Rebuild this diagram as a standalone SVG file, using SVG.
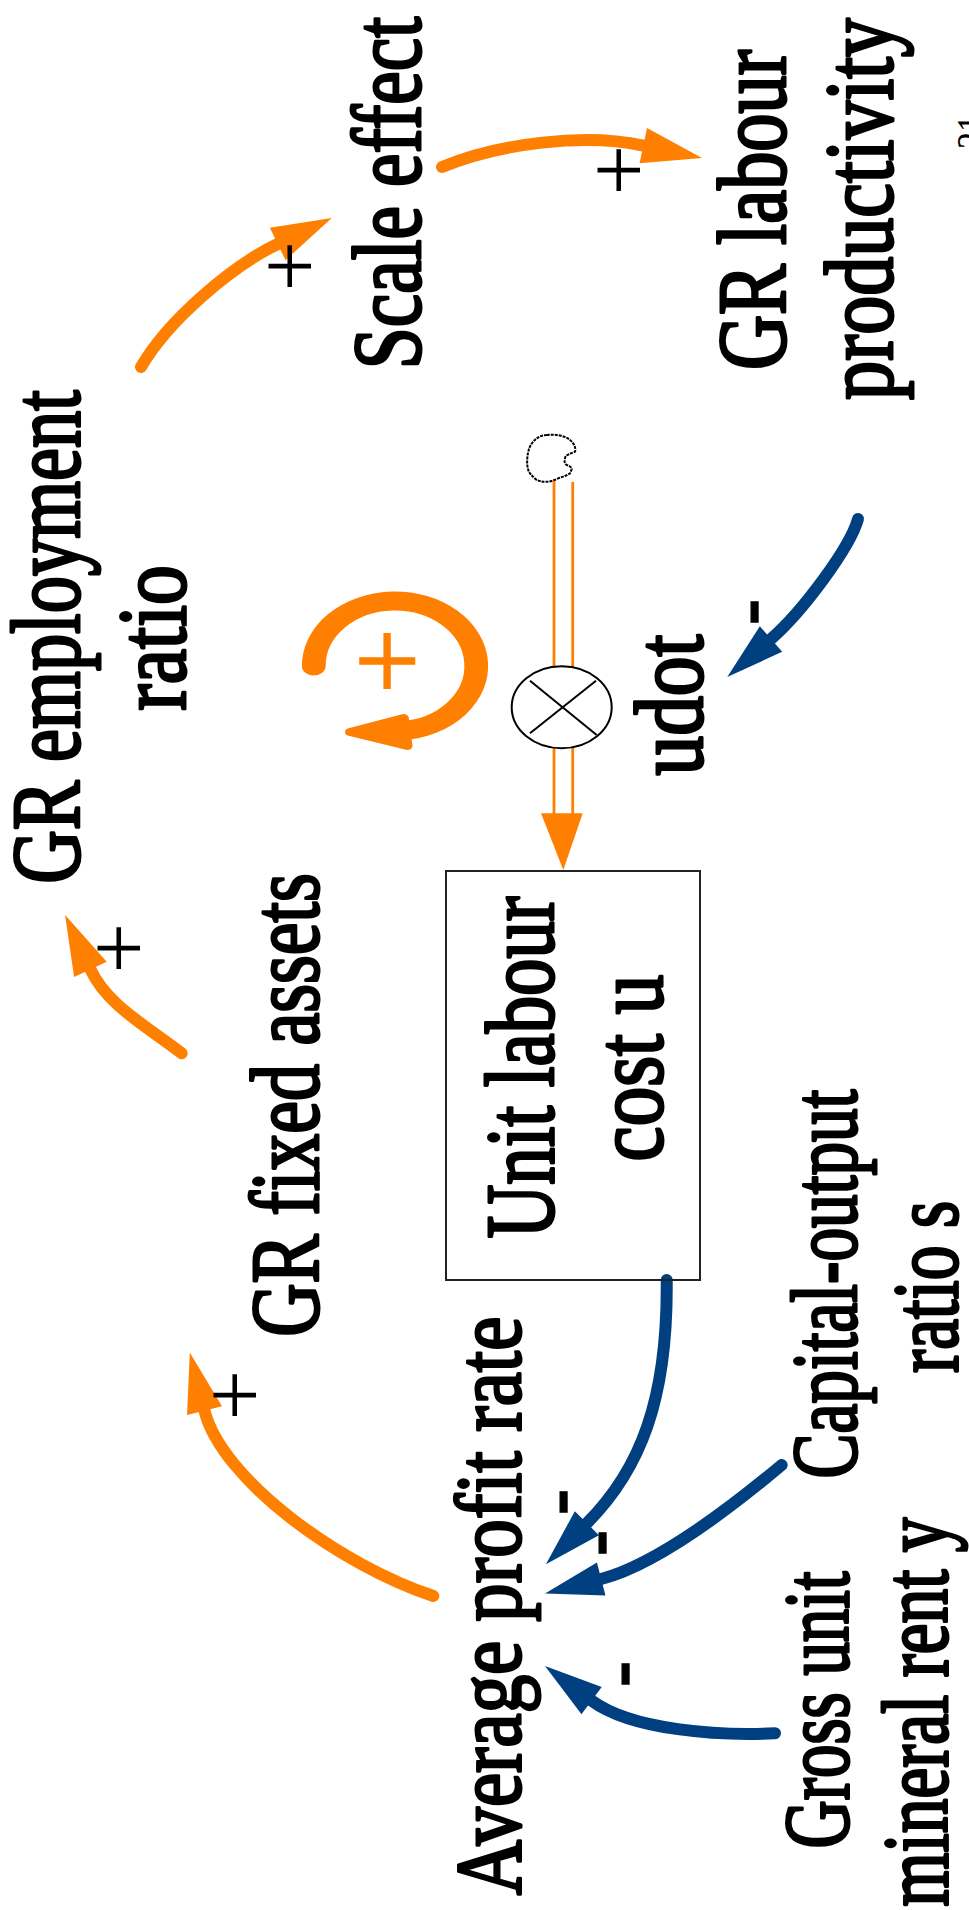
<svg xmlns="http://www.w3.org/2000/svg" width="969" height="1910" viewBox="0 0 969 1910">
  <style>
    text { font-family: "Liberation Serif", "Times New Roman", serif; text-anchor: middle; }
    .lbl { fill: #000; stroke: #000; stroke-width: 3; stroke-linejoin: round; }
    .f98 { font-size: 98px; }
    .f93 { font-size: 93px; }
    .pol { fill: #000; }
    .plus { font-size: 90px; }
    .minus { font-size: 92px; stroke: #000; stroke-width: 1.4; }
    .lnkO { fill: none; stroke: #FF8000; stroke-width: 12; stroke-linecap: round; marker-end: url(#headO); }
    .lnkB { fill: none; stroke: #004080; stroke-width: 12; stroke-linecap: round; marker-end: url(#headB); }
    .pipe { stroke: #FF8000; stroke-width: 2.8; fill: none; }
  </style>
  <defs>
    <marker id="headO" markerUnits="userSpaceOnUse" markerWidth="60" markerHeight="36" refX="0" refY="0" orient="auto" overflow="visible">
      <path d="M0,-18 L60,0 L0,18 Z" fill="#FF8000"/>
    </marker>
    <marker id="headB" markerUnits="userSpaceOnUse" markerWidth="58" markerHeight="34" refX="0" refY="0" orient="auto" overflow="visible">
      <path d="M0,-17 L58,0 L0,17 Z" fill="#004080"/>
    </marker>
  </defs>

  <rect width="969" height="1910" fill="#fff"/>

  <!-- causal links -->
  <g id="connectors">
    <path class="lnkO" d="M442,167 C500,143 584.6,133.2 643.3,145.6"/>
    <path class="lnkO" d="M141,367 C168,320 232,266 277.7,244"/>
    <path class="lnkO" d="M181.7,1053.3 C145,1025 107,1005 90.4,969.3"/>
    <path class="lnkO" d="M433.3,1596 C340,1565 222,1480 204.5,1410.7"/>
    <path class="lnkB" d="M666.7,1280 C668,1400 640,1470 586.9,1523.2"/>
    <path class="lnkB" d="M781.7,1465 C740,1500 659,1564 601.2,1579"/>
    <path class="lnkB" d="M775,1733.3 C720,1736 632,1730.5 591.6,1700.6"/>
    <path class="lnkB" d="M858,519 C850,548 802,612 771,639"/>

    <!-- polarities -->
    <text class="pol plus" transform="translate(648.8,170) rotate(-90)">+</text>
    <text class="pol plus" transform="translate(319.8,266) rotate(-90)">+</text>
    <text class="pol plus" transform="translate(148.8,948) rotate(-90)">+</text>
    <text class="pol plus" transform="translate(264.5,1395) rotate(-90)">+</text>
    <text class="pol minus" transform="translate(775.7,612) rotate(-90) scale(0.85,1)">-</text>
    <text class="pol minus" transform="translate(585.2,1502) rotate(-90) scale(0.85,1)">-</text>
    <text class="pol minus" transform="translate(624.4,1543) rotate(-90) scale(0.85,1)">-</text>
    <text class="pol minus" transform="translate(647.4,1674) rotate(-90) scale(0.85,1)">-</text>
  </g>

  <!-- reinforcing loop marker -->
  <g id="loop">
    <g transform="translate(395,666) scale(1.25,1)">
      <path d="M-65,0 A65,65 0 1 1 5.7,64.75" fill="none" stroke="#FF8000" stroke-width="19" stroke-linecap="round"/>
      <polygon points="7,52 10,80 -36,66" fill="#FF8000" stroke="#FF8000" stroke-width="8" stroke-linejoin="round"/>
    </g>
    <text style="font-size:117px;fill:#FF8000;stroke:#FF8000;stroke-width:1.5" transform="translate(425.6,661) rotate(-90)">+</text>
  </g>

  <!-- source cloud -->
  <g id="cloud">
    <path d="M546.7,435 C556,434 566,436 570,440 C575,444 576,449 575,451.7 C570,454 565,455 565,458.3 C564,462 565,464 566.7,465 C570,466 572,468 571.7,469 C571,472 570,473 570,473.3 C566,476 562,477 558.3,478.3 C553,481 549,482 546.7,481.7 C542,482 539,481 536.7,480 C532,476 529,473 528.3,470 C527,466 527,462 527.3,458.3 C528,450 530,445 533.3,441.7 C537,437 542,435 546.7,435 Z" fill="#fff" stroke="#000" stroke-width="2" stroke-dasharray="3 1"/>
  </g>

  <!-- flow udot with valve -->
  <g id="udot">
    <line class="pipe" x1="554" y1="481" x2="554" y2="667"/>
    <line class="pipe" x1="572.7" y1="482" x2="572.7" y2="667"/>
    <line class="pipe" x1="554" y1="747" x2="554" y2="814"/>
    <line class="pipe" x1="572.7" y1="747" x2="572.7" y2="814"/>
    <polygon points="541,813.3 582.7,813.3 563.3,870" fill="#FF8000"/>
    <ellipse cx="561.7" cy="707.3" rx="50" ry="41" fill="#fff" stroke="#000" stroke-width="2"/>
    <line x1="530" y1="680.7" x2="596.7" y2="735" stroke="#000" stroke-width="2"/>
    <line x1="530" y1="733.3" x2="596" y2="680.7" stroke="#000" stroke-width="2"/>
    <text class="lbl f98" transform="translate(702,705) rotate(-90) scale(0.81,1)">udot</text>
  </g>

  <!-- stock -->
  <g id="unit-labour-cost">
    <rect x="446" y="871" width="254" height="409" fill="none" stroke="#222" stroke-width="2"/>
    <text class="lbl f98" transform="translate(553,1067.5) rotate(-90) scale(0.762,1)">Unit labour</text>
    <text class="lbl f98" transform="translate(662,1068) rotate(-90) scale(0.808,1)">cost u</text>
  </g>

  <g id="gr-employment-ratio">
    <text class="lbl f98" transform="translate(79,637) rotate(-90) scale(0.759,1)">GR employment</text>
    <text class="lbl f98" transform="translate(185,638) rotate(-90) scale(0.81,1)">ratio</text>
  </g>

  <g id="scale-effect">
    <text class="lbl f98" transform="translate(420,193) rotate(-90) scale(0.77,1)">Scale effect</text>
  </g>

  <g id="gr-labour-productivity">
    <text class="lbl f98" transform="translate(785,210) rotate(-90) scale(0.779,1)">GR labour</text>
    <text class="lbl f98" transform="translate(892,209) rotate(-90) scale(0.797,1)">productivity</text>
  </g>

  <g id="gr-fixed-assets">
    <text class="lbl f98" transform="translate(318,1105) rotate(-90) scale(0.754,1)">GR fixed assets</text>
  </g>

  <g id="average-profit-rate">
    <text class="lbl" style="font-size:94px" transform="translate(520,1606) rotate(-90) scale(0.817,1)">Average profit rate</text>
  </g>

  <g id="capital-output-ratio">
    <text class="lbl f93" transform="translate(856,1284) rotate(-90) scale(0.724,1)">Capital-output</text>
    <text class="lbl f93" transform="translate(957,1287) rotate(-90) scale(0.748,1)">ratio s</text>
  </g>

  <g id="gross-unit-mineral-rent">
    <text class="lbl f93" transform="translate(848,1710) rotate(-90) scale(0.72,1)">Gross unit</text>
    <text class="lbl f93" transform="translate(946.7,1712) rotate(-90) scale(0.746,1)">mineral rent y</text>
  </g>

  <g id="page-number">
    <text style="font-size:44px;fill:#000" transform="translate(987,132) rotate(-90) scale(0.77,1)">21</text>
  </g>
</svg>
